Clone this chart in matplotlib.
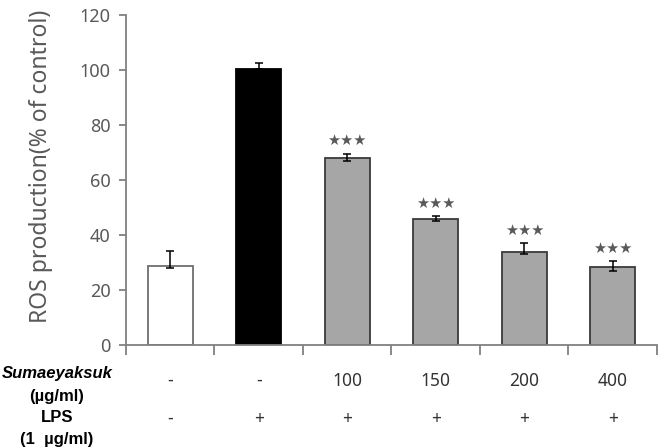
import numpy as np
import matplotlib.pyplot as plt

# data
groups = ['ctrl', 'LPS', '100', '150', '200', '400']
ros = [28.8, 100.2, 67.9, 45.8, 33.9, 28.2]
err_low = [0.9, 0.0, 1.0, 0.9, 0.9, 1.3]
err_high = [5.4, 2.2, 1.6, 1.0, 3.1, 2.2]
sumae_labels = ['-', '-', '100', '150', '200', '400']
lps_labels = ['-', '+', '+', '+', '+', '+']
stars = ['', '', '***', '***', '***', '***']

bar_colors = ['white', 'black', '#a6a6a6', '#a6a6a6', '#a6a6a6', '#a6a6a6']
edge_colors = ['#6e6e6e', 'black', '#3a3a3a', '#3a3a3a', '#3a3a3a', '#3a3a3a']

plt.rcParams['font.family'] = ['Noto Sans', 'DejaVu Sans']

fig = plt.figure(figsize=(6.59, 4.48), dpi=100)
ax = fig.add_axes([0.191, 0.230, 0.806, 0.7366])

x = np.arange(len(groups))
ax.bar(x, ros, width=0.51, color=bar_colors, edgecolor=edge_colors,
       linewidth=1.3, zorder=2)
ax.errorbar(x, ros, yerr=[err_low, err_high], fmt='none', ecolor='black',
            elinewidth=1.1, capsize=3.2, capthick=1.1, zorder=3)

for i, s in enumerate(stars):
    if s:
        ax.text(x[i], ros[i] + err_high[i] + 2.0, '\u2605\u2605\u2605',
                ha='center', va='bottom', fontsize=10.5, color='#595959',
                family='DejaVu Sans')

ax.set_xlim(-0.5, 5.5)
ax.set_ylim(0, 120)
ax.set_yticks(range(0, 121, 20))
ax.set_xticks(np.arange(-0.5, 5.6, 1.0))
ax.set_xticklabels([])
ax.tick_params(axis='y', direction='out', length=5, width=1.3,
               color='#808080', labelsize=13, labelcolor='#595959', pad=6)
ax.tick_params(axis='x', direction='out', length=7, width=1.3,
               color='#808080')
for side in ['top', 'right']:
    ax.spines[side].set_visible(False)
for side in ['left', 'bottom']:
    ax.spines[side].set_color('#808080')
    ax.spines[side].set_linewidth(1.3)

ax.set_ylabel('ROS production(% of control)', fontsize=16.5, color='#595959')
ax.yaxis.set_label_coords(-0.137, 0.54)

trans = ax.get_xaxis_transform()
for i in range(len(groups)):
    ax.text(x[i], -0.109, sumae_labels[i], transform=trans, ha='center',
            va='center', fontsize=12.5, color='#333333')
    ax.text(x[i], -0.224, lps_labels[i], transform=trans, ha='center',
            va='center', fontsize=12.5, color='#333333')

lab = dict(ha='center', va='center', fontsize=12, fontweight='bold',
           family=['Liberation Sans', 'DejaVu Sans'])
fig.text(0.0865, 0.167, 'Sumaeyaksuk', fontstyle='italic', **lab)
fig.text(0.0865, 0.114, '(\u00b5g/ml)', **lab)
fig.text(0.0865, 0.067, 'LPS', **lab)
fig.text(0.0865, 0.018, '(1  \u00b5g/ml)', **lab)

fig.savefig('out.png', dpi=100)
